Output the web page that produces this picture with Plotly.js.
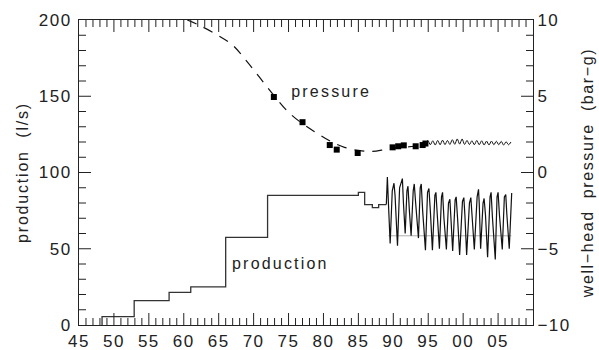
<!DOCTYPE html>
<html>
<head>
<meta charset="utf-8">
<script src="https://cdn.plot.ly/plotly-3.0.1.min.js"></script>
<style>
  html, body { margin: 0; padding: 0; background: #fff; }
  #chart { width: 599px; height: 350px; }
  #chart .main-svg text { letter-spacing: 1.5px; }
  #chart .main-svg .ytitle { letter-spacing: 1.8px; }
  #chart .main-svg .y2title { letter-spacing: 1.6px; }
  #chart .main-svg .annotation-text { letter-spacing: 2.2px; }
</style>
</head>
<body>
<div id="chart"></div>
<script>
// ---- Data ----
const xTickVals = [1945, 1950, 1955, 1960, 1965, 1970, 1975, 1980, 1985, 1990, 1995, 2000, 2005];
const xTickText = ['45', '50', '55', '60', '65', '70', '75', '80', '85', '90', '95', '00', '05'];

// production step history (l/s)
const stepYears = [1948.3, 1948.3, 1952.9, 1957.9, 1961.0, 1966.0, 1972.0, 1985.0, 1985.9, 1987.0, 1987.9, 1989.0];
const stepProd  = [0, 5.5, 16, 21.4, 25, 57.5, 85, 87, 79, 77, 79, 79];

// production seasonal record (l/s)
const oscYears = [1989.0, 1989.15, 1989.3, 1989.4, 1989.55, 1989.85, 1990.1, 1990.25, 1990.6, 1990.9,
  1991.3, 1991.45, 1991.7, 1991.95, 1992.1, 1992.3, 1992.55, 1992.85, 1993.0, 1993.2,
  1993.6, 1993.85, 1994.0, 1994.2, 1994.6, 1994.9, 1995.1, 1995.3, 1995.6, 1995.95,
  1996.1, 1996.3, 1996.6, 1996.9, 1997.05, 1997.25, 1997.6, 1997.9, 1998.1, 1998.25,
  1998.5, 1998.85, 1999.0, 1999.2, 1999.5, 1999.9, 2000.1, 2000.25, 2000.5, 2000.9,
  2001.1, 2001.3, 2001.6, 2002.0, 2002.2, 2002.3, 2002.5, 2002.85, 2003.0, 2003.2,
  2003.5, 2003.85, 2004.0, 2004.2, 2004.6, 2004.85, 2005.0, 2005.2, 2005.6, 2005.9,
  2006.1, 2006.25, 2006.6, 2006.95];
const oscProd = [79, 97, 80, 62, 53.5, 88, 93, 85, 52, 90,
  96, 80, 60, 88, 91, 75, 58.5, 88, 92.5, 80,
  57, 90, 92.5, 75, 49, 87, 89.5, 75, 49, 85,
  87, 72, 50, 84, 87, 70, 49.5, 80, 82.5, 70,
  48.5, 82, 84, 70, 46, 81, 83.5, 72, 46, 80,
  83.5, 70, 49.5, 84, 89, 80, 50, 80, 83, 72,
  44.5, 84, 87, 70, 43, 84, 87, 72, 49.5, 84,
  85.5, 73, 50, 86.5];

// average production line over seasonal period
const meanYears = [1989.3, 2006.9];
const meanProd  = [58.5, 58.5];

// simulated well-head pressure (bar-g)
const modelYears = [1960.5, 1962.0, 1964.5, 1967.0, 1969.0, 1971.0, 1973.0, 1975.0, 1977.0, 1979.0,
  1981.0, 1983.0, 1985.0, 1987.0, 1989.0, 1991.0, 1993.0, 1994.5];
const modelPres = [10.0, 9.7, 9.1, 8.35, 7.3, 6.15, 5.0, 3.95, 3.2, 2.6,
  2.05, 1.65, 1.45, 1.38, 1.52, 1.65, 1.72, 1.85];

// measured well-head pressure (bar-g)
const measYears = [1972.9, 1977.0, 1980.9, 1981.9, 1984.9, 1989.9, 1990.7, 1991.5, 1993.2, 1994.2, 1994.6];
const measPres  = [4.95, 3.3, 1.8, 1.5, 1.28, 1.65, 1.72, 1.78, 1.72, 1.8, 1.9];

// recent well-head pressure record (bar-g)
const recYears = [1994.6, 1994.95, 1995.3, 1995.65, 1996.0, 1996.35, 1996.7, 1997.05, 1997.4, 1997.75,
  1998.1, 1998.45, 1998.8, 1999.15, 1999.5, 1999.85, 2000.2, 2000.55, 2000.9, 2001.25,
  2001.6, 2001.95, 2002.3, 2002.65, 2003.0, 2003.35, 2003.7, 2004.05, 2004.4, 2004.75,
  2005.1, 2005.45, 2005.8, 2006.15, 2006.5, 2006.85];
const recPres = [1.9, 2.1, 1.82, 2.08, 1.8, 2.1, 1.82, 2.12, 1.83, 2.1,
  1.84, 2.15, 1.85, 2.2, 1.86, 2.2, 1.84, 2.1, 1.83, 2.08,
  1.82, 2.1, 1.82, 2.08, 1.8, 2.06, 1.8, 2.06, 1.82, 2.05,
  1.82, 2.04, 1.8, 2.02, 1.82, 2.0];

// ---- Axis settings ----
const ink = '#222';
const X_RANGE = [1945, 2010], Y_RANGE = [0, 200], Y2_RANGE = [-10, 10];
const MAJOR_LEN = 12, MINOR_LEN = 7;

// tick marks drawn as pixel-sized shapes anchored to the axes' own scales
const shapes = [];
function tickLine(o) { return Object.assign({ type: 'line', layer: 'above', line: { color: ink, width: 1 } }, o); }
for (let yr = X_RANGE[0] + 1; yr < X_RANGE[1]; yr++) {
  const len = (yr % 5 === 0) ? MAJOR_LEN : MINOR_LEN;
  shapes.push(tickLine({ xref: 'x', yref: 'paper', ysizemode: 'pixel', yanchor: 0, x0: yr, x1: yr, y0: 0, y1: len }));
  shapes.push(tickLine({ xref: 'x', yref: 'paper', ysizemode: 'pixel', yanchor: 1, x0: yr, x1: yr, y0: 0, y1: -len }));
}
for (let v = Y_RANGE[0] + 10; v < Y_RANGE[1]; v += 10) {
  const len = (v % 50 === 0) ? MAJOR_LEN : MINOR_LEN;
  shapes.push(tickLine({ xref: 'paper', yref: 'y', xsizemode: 'pixel', xanchor: 0, x0: 0, x1: len, y0: v, y1: v }));
}
for (let v = Y2_RANGE[0] + 1; v < Y2_RANGE[1]; v += 1) {
  const len = (v % 5 === 0) ? MAJOR_LEN : MINOR_LEN;
  shapes.push(tickLine({ xref: 'paper', yref: 'y2', xsizemode: 'pixel', xanchor: 1, x0: 0, x1: -len, y0: v, y1: v }));
}

// ---- Traces ----
const traces = [
  { x: stepYears, y: stepProd, type: 'scatter', mode: 'lines', line: { shape: 'hv', color: '#333', width: 1.3 }, xaxis: 'x', yaxis: 'y' },
  { x: meanYears, y: meanProd, type: 'scatter', mode: 'lines', line: { color: '#999', width: 0.8 }, xaxis: 'x', yaxis: 'y' },
  { x: oscYears, y: oscProd, type: 'scatter', mode: 'lines', line: { color: '#111', width: 1.2 }, xaxis: 'x', yaxis: 'y' },
  { x: modelYears, y: modelPres, type: 'scatter', mode: 'lines', line: { shape: 'spline', color: '#111', width: 1.2, dash: '10px,8px' }, xaxis: 'x', yaxis: 'y2' },
  { x: measYears, y: measPres, type: 'scatter', mode: 'markers', marker: { symbol: 'square', size: 6, color: '#000' }, xaxis: 'x', yaxis: 'y2' },
  { x: recYears, y: recPres, type: 'scatter', mode: 'lines', line: { shape: 'spline', smoothing: 0.8, color: '#111', width: 1 }, xaxis: 'x', yaxis: 'y2' }
];

const tickFont = { family: 'Liberation Sans, Arial, sans-serif', size: 17, color: ink };
const titleFont = { family: 'Liberation Sans, Arial, sans-serif', size: 16, color: ink };
const annFont = { family: 'Liberation Sans, Arial, sans-serif', size: 16, color: ink };

const layout = {
  width: 599, height: 350,
  margin: { l: 79, r: 66, t: 20, b: 25 },
  paper_bgcolor: '#fff', plot_bgcolor: '#fff', showlegend: false,
  xaxis: {
    range: X_RANGE, tickmode: 'array', tickvals: xTickVals, ticktext: xTickText, ticks: '',
    showline: true, linecolor: ink, linewidth: 1, mirror: true,
    showgrid: false, zeroline: false, tickfont: tickFont, ticklabelstandoff: 1
  },
  yaxis: {
    range: Y_RANGE, tickmode: 'linear', tick0: 0, dtick: 50, ticks: '',
    showline: true, linecolor: ink, linewidth: 1, showgrid: false, zeroline: false,
    tickfont: tickFont, ticklabelstandoff: 3,
    title: { text: 'production\u00a0\u00a0(l/s)', font: titleFont, standoff: 10 }
  },
  yaxis2: {
    overlaying: 'y', side: 'right', range: Y2_RANGE, tickmode: 'linear', tick0: -10, dtick: 5, ticks: '',
    showline: true, linecolor: ink, linewidth: 1, showgrid: false, zeroline: false, tickfont: tickFont,
    title: { text: 'well\u2212head\u00a0\u00a0pressure\u00a0\u00a0(bar\u2212g)', font: titleFont, standoff: 16 }
  },
  shapes: shapes,
  annotations: [
    { x: 1976.4, y: 153, xref: 'x', yref: 'y', text: 'pressure', showarrow: false, xanchor: 'left', yanchor: 'middle', font: annFont },
    { x: 1968.2, y: 40.5, xref: 'x', yref: 'y', text: 'production', showarrow: false, xanchor: 'left', yanchor: 'middle', font: annFont }
  ]
};

Plotly.newPlot('chart', traces, layout, { displayModeBar: false, staticPlot: true });
</script>
</body>
</html>
